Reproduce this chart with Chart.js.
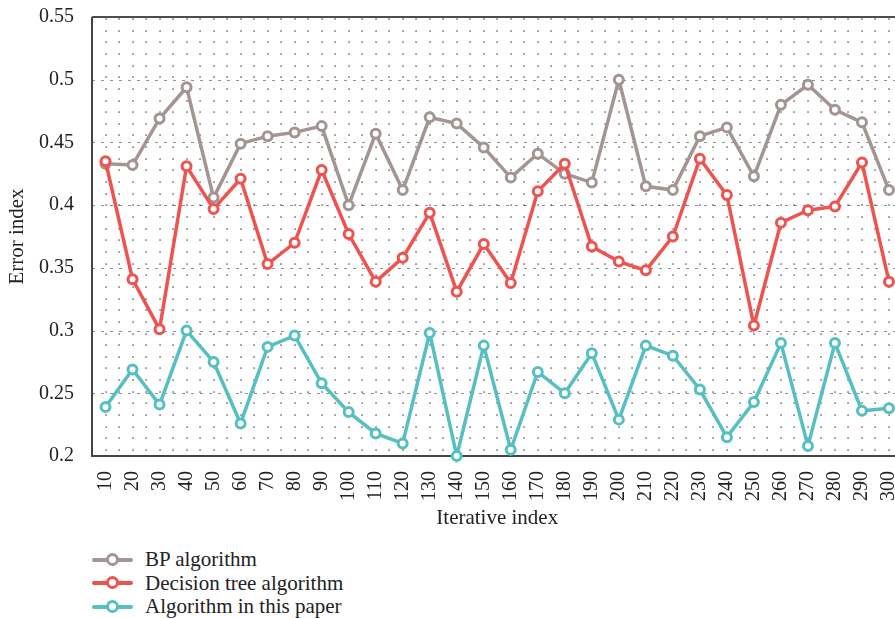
<!DOCTYPE html>
<html>
<head>
<meta charset="utf-8">
<script src="https://cdn.jsdelivr.net/npm/chart.js@4.4.1/dist/chart.umd.min.js"></script>
<style>
  body { margin: 0; background: #fff; overflow: hidden; width: 895px; height: 618px; position: relative; }
  #wrap { position: absolute; left: 0; top: 0; width: 910px; height: 535px; }
  #legend { position: absolute; left: 92px; top: 548px; font-family: "Liberation Serif", serif; font-size: 21px; color: #222; }
  .item { display: flex; align-items: center; height: 23.5px; white-space: nowrap; }
  .swatch { position: relative; width: 41px; height: 24px; margin-right: 12px; flex: none; }
  .swatch .ln { position: absolute; left: 0; right: 0; top: 10px; height: 4px; border-radius: 2px; }
  .swatch .pt { position: absolute; left: 14px; top: 5px; width: 7px; height: 7px; border: 3px solid; border-radius: 50%; background: #fff; }
</style>
</head>
<body>
<div id="wrap"><canvas id="chart" width="910" height="535"></canvas></div>
<div id="legend"></div>
<script>
// Datos
const iterations = [10, 20, 30, 40, 50, 60, 70, 80, 90, 100, 110, 120, 130, 140, 150,
    160, 170, 180, 190, 200, 210, 220, 230, 240, 250, 260, 270, 280, 290, 300];
const bpError = [0.433, 0.432, 0.469, 0.494, 0.406, 0.449, 0.455, 0.458, 0.463, 0.400,
    0.457, 0.412, 0.470, 0.465, 0.446, 0.422, 0.441, 0.425, 0.418, 0.500,
    0.415, 0.412, 0.455, 0.462, 0.423, 0.480, 0.496, 0.476, 0.466, 0.412];
const treeError = [0.435, 0.341, 0.301, 0.431, 0.397, 0.421, 0.353, 0.370, 0.428, 0.377,
    0.339, 0.358, 0.394, 0.331, 0.369, 0.338, 0.411, 0.433, 0.367, 0.355,
    0.348, 0.375, 0.437, 0.408, 0.304, 0.386, 0.396, 0.399, 0.434, 0.339];
const paperError = [0.239, 0.269, 0.241, 0.300, 0.275, 0.226, 0.287, 0.296, 0.258, 0.235,
    0.218, 0.210, 0.298, 0.200, 0.288, 0.205, 0.267, 0.250, 0.282, 0.229,
    0.288, 0.280, 0.253, 0.215, 0.243, 0.290, 0.208, 0.290, 0.236, 0.238];
const yTicks = [0.2, 0.25, 0.3, 0.35, 0.4, 0.45, 0.5, 0.55];
const yTickLabels = ['0.2', '0.25', '0.3', '0.35', '0.4', '0.45', '0.5', '0.55'];
const seriesNames = ['BP algorithm', 'Decision tree algorithm', 'Algorithm in this paper'];
const seriesColors = ['#a39592', '#ef5350', '#55bfc1'];

const serif = '"Liberation Serif", "Times New Roman", serif';

// Rejilla de puntos + marco
const dotGrid = {
    id: 'dotGrid',
    beforeDatasetsDraw(chart) {
        const { ctx, chartArea: a, scales: { x, y } } = chart;
        ctx.save();
        ctx.fillStyle = 'rgba(0,0,0,0.8)';
        const half = (x.getPixelForValue(1) - x.getPixelForValue(0)) / 2;
        const rows = 38;
        const rowTop = a.top + 2, rowBottom = a.bottom - 6;
        for (let i = 0; i < iterations.length * 2; i++) {
            const px = x.getPixelForValue(0) + i * half;
            if (px > a.right) break;
            for (let r = 0; r < rows; r++) {
                const py = rowBottom - r * (rowBottom - rowTop) / (rows - 1);
                ctx.fillRect(Math.round(px) - 0.6, Math.round(py) - 0.6, 1.3, 1.3);
            }
        }
        // líneas discontinuas en las marcas principales
        ctx.strokeStyle = 'rgba(0,0,0,0.55)';
        ctx.lineWidth = 0.8;
        ctx.setLineDash([3, 6]);
        yTicks.forEach(v => {
            if (v <= 0.2 || v >= 0.55) return;
            const py = Math.round(y.getPixelForValue(v)) + 0.5;
            ctx.beginPath();
            ctx.moveTo(a.left, py);
            ctx.lineTo(a.right, py);
            ctx.stroke();
        });
        ctx.setLineDash([]);
        // marco
        ctx.strokeStyle = '#111';
        ctx.lineWidth = 1.5;
        ctx.beginPath();
        ctx.moveTo(a.left, a.top);
        ctx.lineTo(a.right, a.top);
        ctx.stroke();
        ctx.strokeStyle = '#444';
        ctx.lineWidth = 2;
        ctx.beginPath();
        ctx.moveTo(a.left, a.top);
        ctx.lineTo(a.left, a.bottom);
        ctx.lineTo(a.right, a.bottom);
        ctx.stroke();
        ctx.restore();
    }
};

const makeDataset = (label, data, color, order) => ({
    label, data, order,
    borderColor: color,
    backgroundColor: color,
    borderWidth: 3.5,
    pointRadius: 4.5,
    pointBorderWidth: 3,
    pointBackgroundColor: '#fff',
    pointBorderColor: color,
    tension: 0,
    clip: false
});

new Chart(document.getElementById('chart'), {
    type: 'line',
    data: {
        labels: iterations,
        datasets: [
            makeDataset(seriesNames[0], bpError, seriesColors[0], 3),
            makeDataset(seriesNames[1], treeError, seriesColors[1], 2),
            makeDataset(seriesNames[2], paperError, seriesColors[2], 1)
        ]
    },
    options: {
        responsive: false,
        animation: false,
        events: [],
        devicePixelRatio: 1,
        layout: { padding: { top: 17, right: 7, left: 0, bottom: 0 } },
        plugins: { legend: { display: false }, tooltip: { enabled: false } },
        scales: {
            x: {
                offset: true,
                grid: { display: false },
                border: { display: false },
                ticks: {
                    autoSkip: false, minRotation: 90, maxRotation: 90, padding: 7,
                    color: '#222', font: { family: serif, size: 20 }
                },
                title: {
                    display: true, text: 'Iterative index', color: '#222',
                    font: { family: serif, size: 21 }, padding: { top: 0, bottom: 4 }
                },
                afterFit: s => { s.height = 79; s.paddingLeft = 0; s.paddingRight = 0; }
            },
            y: {
                min: 0.2, max: 0.55,
                grid: { display: false },
                border: { display: false },
                afterBuildTicks: s => { s.ticks = yTicks.map(v => ({ value: v })); },
                ticks: {
                    padding: 10, color: '#222', font: { family: serif, size: 20 },
                    callback: v => {
                        const i = yTicks.findIndex(t => Math.abs(t - v) < 1e-9);
                        return i >= 0 ? yTickLabels[i] : '';
                    }
                },
                title: {
                    display: true, text: 'Error index', color: '#222',
                    font: { family: serif, size: 21 }, padding: { top: 5, bottom: 0 }
                },
                afterFit: s => { s.width = 92; s.paddingTop = 0; s.paddingBottom = 0; }
            }
        }
    },
    plugins: [dotGrid]
});

// Leyenda vertical en HTML
const legendEl = document.getElementById('legend');
seriesNames.forEach((name, i) => {
    const item = document.createElement('div');
    item.className = 'item';
    item.innerHTML = `<span class="swatch"><span class="ln" style="background:${seriesColors[i]}"></span>` +
        `<span class="pt" style="border-color:${seriesColors[i]}"></span></span><span>${name}</span>`;
    legendEl.appendChild(item);
});
</script>
</body>
</html>
